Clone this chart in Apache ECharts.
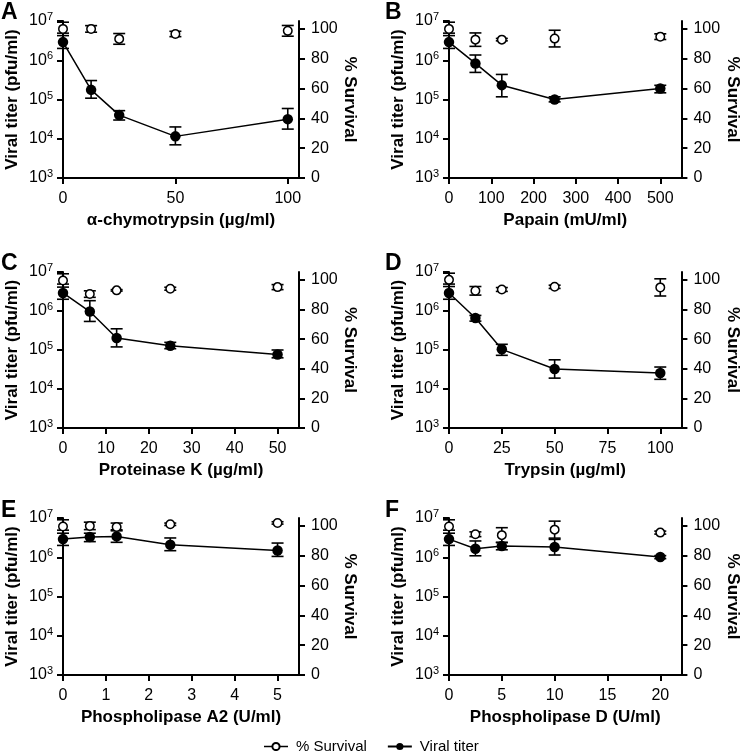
<!DOCTYPE html>
<html><head><meta charset="utf-8">
<script src="https://cdn.jsdelivr.net/npm/echarts@6/dist/echarts.min.js"></script>
<style>html,body{margin:0;padding:0;background:#fff}#c{width:742px;height:751px}</style>
</head><body><div id="c"></div>
<script>
const FONT = '"Liberation Sans", Arial, Helvetica, sans-serif';

// ---- Data ----
const panelLetters = ['A', 'B', 'C', 'D', 'E', 'F'];
const xTitles = ['α-chymotrypsin (µg/ml)', 'Papain (mU/ml)', 'Proteinase K (µg/ml)',
                 'Trypsin (µg/ml)', 'Phospholipase A2 (U/ml)', 'Phospholipase D (U/ml)'];
const xMax = [105, 550, 55, 110, 5.5, 22];
const xTicksA = [0, 50, 100];
const xTicksB = [0, 100, 200, 300, 400, 500];
const xTicksC = [0, 10, 20, 30, 40, 50];
const xTicksD = [0, 25, 50, 75, 100];
const xTicksE = [0, 1, 2, 3, 4, 5];
const xTicksF = [0, 5, 10, 15, 20];
const survivalTicks = [0, 20, 40, 60, 80, 100];

// doses
const doseA = [0, 12.5, 25, 50, 100];
const doseB = [0, 62.5, 125, 250, 500];
const doseC = [0, 6.25, 12.5, 25, 50];
const doseD = [0, 12.5, 25, 50, 100];
const doseE = [0, 0.625, 1.25, 2.5, 5];
const doseF = [0, 2.5, 5, 10, 20];

// % survival (mean, SD)
const survA = [100, 100, 93.3, 96.6, 98.7];   const survErrA = [4.5, 2.2, 3.6, 1.8, 3.6];
const survB = [100, 92.8, 92.8, 93.5, 94.8];  const survErrB = [4.5, 4.5, 0.8, 5.6, 1.9];
const survC = [99.6, 90.4, 92.9, 94, 95.1];   const survErrC = [4.5, 2.2, 0.5, 1, 1.7];
const survD = [100, 92.6, 93.5, 95.3, 94.9];  const survErrD = [4.5, 2.9, 1.3, 1.1, 5.8];
const survE = [99.6, 100, 99.3, 101.1, 102];  const survErrE = [4.5, 2.5, 2.6, 0.8, 0.8];
const survF = [99.6, 94.4, 93.8, 97.5, 95.5]; const survErrF = [4.5, 1.6, 5, 5.7, 1];

// viral titer (pfu/ml) with lower / upper error limits
const titerA = [2.9e6, 1.76e5, 4.0e4, 1.15e4, 3.16e4];
const titerLowA = [2.0e6, 1.08e5, 3.0e4, 7.0e3, 1.76e4];
const titerHighA = [4.9e6, 3.04e5, 5.2e4, 2.0e4, 5.9e4];
const titerB = [2.9e6, 8.3e5, 2.32e5, 1.0e5, 1.91e5];
const titerLowB = [2.0e6, 4.9e5, 1.17e5, 8.7e4, 1.48e5];
const titerHighB = [4.9e6, 1.36e6, 4.35e5, 1.17e5, 2.3e5];
const titerC = [2.9e6, 9.7e5, 2.03e5, 1.29e5, 7.7e4];
const titerLowC = [2.0e6, 5.4e5, 1.2e5, 1.08e5, 6.3e4];
const titerHighC = [4.9e6, 1.84e6, 3.5e5, 1.57e5, 1.0e5];
const titerD = [2.9e6, 6.6e5, 1.04e5, 3.26e4, 2.57e4];
const titerLowD = [2.0e6, 5.5e5, 7.3e4, 1.9e4, 1.77e4];
const titerHighD = [4.9e6, 7.7e5, 1.4e5, 5.6e4, 3.66e4];
const titerE = [2.9e6, 3.27e6, 3.4e6, 2.08e6, 1.49e6];
const titerLowE = [2.0e6, 2.5e6, 2.4e6, 1.47e6, 1.05e6];
const titerHighE = [4.9e6, 4.1e6, 5.0e6, 3.1e6, 2.3e6];
const titerF = [2.9e6, 1.65e6, 1.93e6, 1.82e6, 1.01e6];
const titerLowF = [2.0e6, 1.09e6, 1.55e6, 1.14e6, 0.92e6];
const titerHighF = [4.9e6, 2.6e6, 2.4e6, 2.85e6, 1.1e6];

// ---- Assemble ----
const doses = [doseA, doseB, doseC, doseD, doseE, doseF];
const xTicks = [xTicksA, xTicksB, xTicksC, xTicksD, xTicksE, xTicksF];
const survs = [survA, survB, survC, survD, survE, survF];
const survErrs = [survErrA, survErrB, survErrC, survErrD, survErrE, survErrF];
const titers = [titerA, titerB, titerC, titerD, titerE, titerF];
const titerLows = [titerLowA, titerLowB, titerLowC, titerLowD, titerLowE, titerLowF];
const titerHighs = [titerHighA, titerHighB, titerHighC, titerHighD, titerHighE, titerHighF];

const gridPos = [
  {left: 63, top: 21, width: 236, height: 157},
  {left: 449, top: 21, width: 235, height: 157},
  {left: 63, top: 272, width: 236, height: 156},
  {left: 449, top: 272, width: 235, height: 156},
  {left: 63, top: 518, width: 236, height: 157},
  {left: 449, top: 518, width: 235, height: 157}
];
const letterPos = [[1, 1], [385, 1], [1, 252], [385, 252], [1, 499], [385, 499]];

const axisLineStyle = {color: '#000', width: 2};
const labelStyle = {color: '#000', fontSize: 16, fontFamily: FONT};
const nameStyle = {color: '#000', fontSize: 17, fontWeight: 'bold', fontFamily: FONT};

function errRender(params, api) {
  const x = api.value(0), lo = api.value(1), hi = api.value(2);
  const a = api.coord([x, lo]), b = api.coord([x, hi]);
  const w = 6;
  const st = {stroke: '#000', lineWidth: 1.6, fill: null};
  return {type: 'group', children: [
    {type: 'line', shape: {x1: a[0], y1: a[1], x2: b[0], y2: b[1]}, style: st},
    {type: 'line', shape: {x1: a[0] - w, y1: a[1], x2: a[0] + w, y2: a[1]}, style: st},
    {type: 'line', shape: {x1: b[0] - w, y1: b[1], x2: b[0] + w, y2: b[1]}, style: st}
  ]};
}

const grid = [], xAxis = [], yAxis = [], series = [], graphic = [];
for (let i = 0; i < 6; i++) {
  grid.push(Object.assign({containLabel: false}, gridPos[i]));
  xAxis.push({
    type: 'value', gridIndex: i, min: 0, max: xMax[i],
    axisLine: {show: true, onZero: false, lineStyle: axisLineStyle},
    axisTick: {show: true, length: 6, customValues: xTicks[i], lineStyle: axisLineStyle},
    axisLabel: Object.assign({customValues: xTicks[i], margin: 13}, labelStyle),
    splitLine: {show: false},
    name: xTitles[i], nameLocation: 'middle', nameGap: 34, nameTextStyle: nameStyle
  });
  yAxis.push({
    type: 'log', logBase: 10, gridIndex: i, min: 1000, max: 1e7, position: 'left',
    axisLine: {show: true, onZero: false, lineStyle: axisLineStyle},
    axisTick: {show: true, length: 6, lineStyle: axisLineStyle},
    minorTick: {show: false},
    splitLine: {show: false},
    axisLabel: {
      margin: 10, color: '#000', fontFamily: FONT,
      formatter: v => '{b|10}{s|' + Math.round(Math.log10(v)) + '}',
      rich: {
        b: {fontSize: 16, lineHeight: 19, fontFamily: FONT, color: '#000'},
        s: {fontSize: 11, lineHeight: 11, verticalAlign: 'top', fontFamily: FONT, color: '#000'}
      }
    },
    name: 'Viral titer (pfu/ml)', nameLocation: 'middle', nameGap: 42, nameRotate: 90,
    nameTextStyle: nameStyle
  });
  yAxis.push({
    type: 'value', gridIndex: i, min: 0, max: 105.3, position: 'right',
    axisLine: {show: true, onZero: false, lineStyle: axisLineStyle},
    axisTick: {show: true, length: 6, customValues: survivalTicks, lineStyle: axisLineStyle},
    axisLabel: Object.assign({customValues: survivalTicks, margin: 12}, labelStyle),
    splitLine: {show: false},
    name: '% Survival', nameLocation: 'middle', nameGap: 41, nameRotate: -90,
    nameTextStyle: nameStyle
  });

  const d = doses[i];
  series.push({
    type: 'custom', name: 'titerErr' + i, xAxisIndex: i, yAxisIndex: 2 * i,
    renderItem: errRender, encode: {x: 0, y: [1, 2]}, z: 3, silent: true,
    data: d.map((x, k) => [x, titerLows[i][k], titerHighs[i][k]])
  });
  series.push({
    type: 'line', name: 'Viral titer', xAxisIndex: i, yAxisIndex: 2 * i,
    data: d.map((x, k) => [x, titers[i][k]]),
    symbol: 'circle', symbolSize: 10.5, showSymbol: true,
    itemStyle: {color: '#000'}, lineStyle: {color: '#000', width: 1.5},
    z: 4, silent: true, animation: false, clip: false
  });
  series.push({
    type: 'custom', name: 'survErr' + i, xAxisIndex: i, yAxisIndex: 2 * i + 1,
    renderItem: errRender, encode: {x: 0, y: [1, 2]}, z: 5, silent: true,
    data: d.map((x, k) => [x, survs[i][k] - survErrs[i][k], survs[i][k] + survErrs[i][k]])
  });
  series.push({
    type: 'line', name: '% Survival', xAxisIndex: i, yAxisIndex: 2 * i + 1,
    data: d.map((x, k) => [x, survs[i][k]]),
    symbol: 'circle', symbolSize: 8.5, showSymbol: true,
    itemStyle: {color: '#fff', borderColor: '#000', borderWidth: 1.5},
    lineStyle: {width: 0, color: '#000'},
    z: 6, silent: true, animation: false, clip: false
  });

  graphic.push({
    type: 'text', left: letterPos[i][0], top: letterPos[i][1],
    style: {text: panelLetters[i], font: 'bold 23px ' + FONT, fill: '#000'}
  });
}

const chart = echarts.init(document.getElementById('c'), null, {renderer: 'canvas'});
chart.setOption({
  animation: false,
  backgroundColor: '#fff',
  grid, xAxis, yAxis, series, graphic,
  legend: {
    data: [
      {name: '% Survival', lineStyle: {width: 1.5, color: '#000', opacity: 1}},
      {name: 'Viral titer'}
    ],
    top: 734, left: 'center', itemWidth: 24, itemHeight: 9, itemGap: 20,
    textStyle: {color: '#000', fontSize: 15, fontFamily: FONT, padding: [0, 0, 0, 3]},
    selectedMode: false
  }
});
</script>
</body></html>
